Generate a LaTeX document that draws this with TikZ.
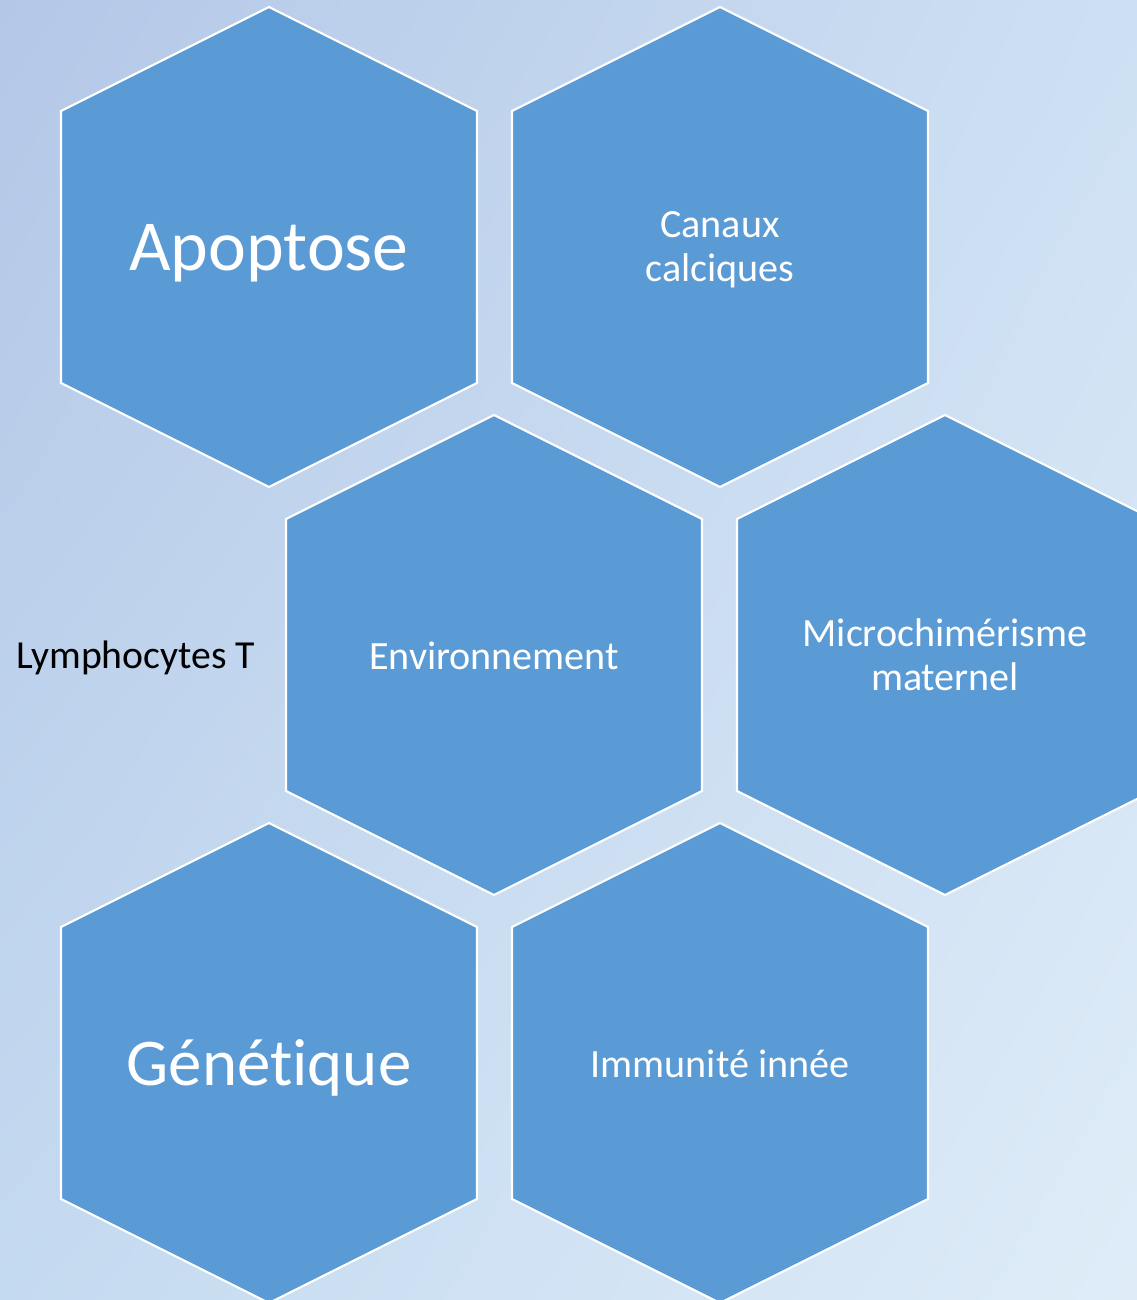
\documentclass[tikz,border=0pt]{standalone}
\usepackage{fontspec}
\setmainfont[Ligatures=NoCommon]{Carlito}
\usepackage{tikz}
\usetikzlibrary{shadings}

\definecolor{cellblue}{RGB}{91,155,213}
\definecolor{bgtl}{RGB}{180,199,231}
\definecolor{bgtr}{RGB}{205,224,243}
\definecolor{bgbl}{RGB}{196,218,240}
\definecolor{bgbr}{RGB}{223,236,248}

\tikzset{
  cell/.style={fill=cellblue,draw=white,line width=0.6pt,line join=miter},
  biglbl/.style={text=white,align=center,font=\fontsize{20.4}{24}\selectfont},
  lbl/.style={text=white,align=center,font=\fontsize{11.4}{12.4}\selectfont}
}

\begin{document}
\begin{tikzpicture}[x=0.01cm,y=-0.01cm]
        \useasboundingbox (0,0) rectangle (1137,1300);
        \clip (0,0) rectangle (1137,1300);
        \shade[upper left=bgtl,upper right=bgtr,lower left=bgbl,lower right=bgbr]
          (0,0) rectangle (1137,1300);
        % honeycomb
        \foreach \cx/\cy in {269/247,720/247,494/655,945/655,269/1063,720/1063}
          \draw[cell] (\cx,\cy) ++(0,-240) -- ++(208,104) -- ++(0,272)
            -- ++(-208,104) -- ++(-208,-104) -- ++(0,-272) -- cycle;
        \node[biglbl] (apop) at (269,253) {Apoptose};
        \node[lbl] (canx) at (720,250) {Canaux\\calciques};
        \node[lbl] (envt) at (494,656) {Environnement};
        \node[lbl] (mchm) at (945,655) {Microchimérisme\\maternel};
        \node[biglbl,font=\fontsize{19}{24}\selectfont] (gene) at (269,1068) {Génétique};
        \node[lbl] (immu) at (720,1064) {Immunité innée};
        \node[anchor=east,inner sep=0pt,font=\fontsize{11.3}{12.4}\selectfont] (lymt) at (256,658) {Lymphocytes T};
      \end{tikzpicture}
\end{document}
